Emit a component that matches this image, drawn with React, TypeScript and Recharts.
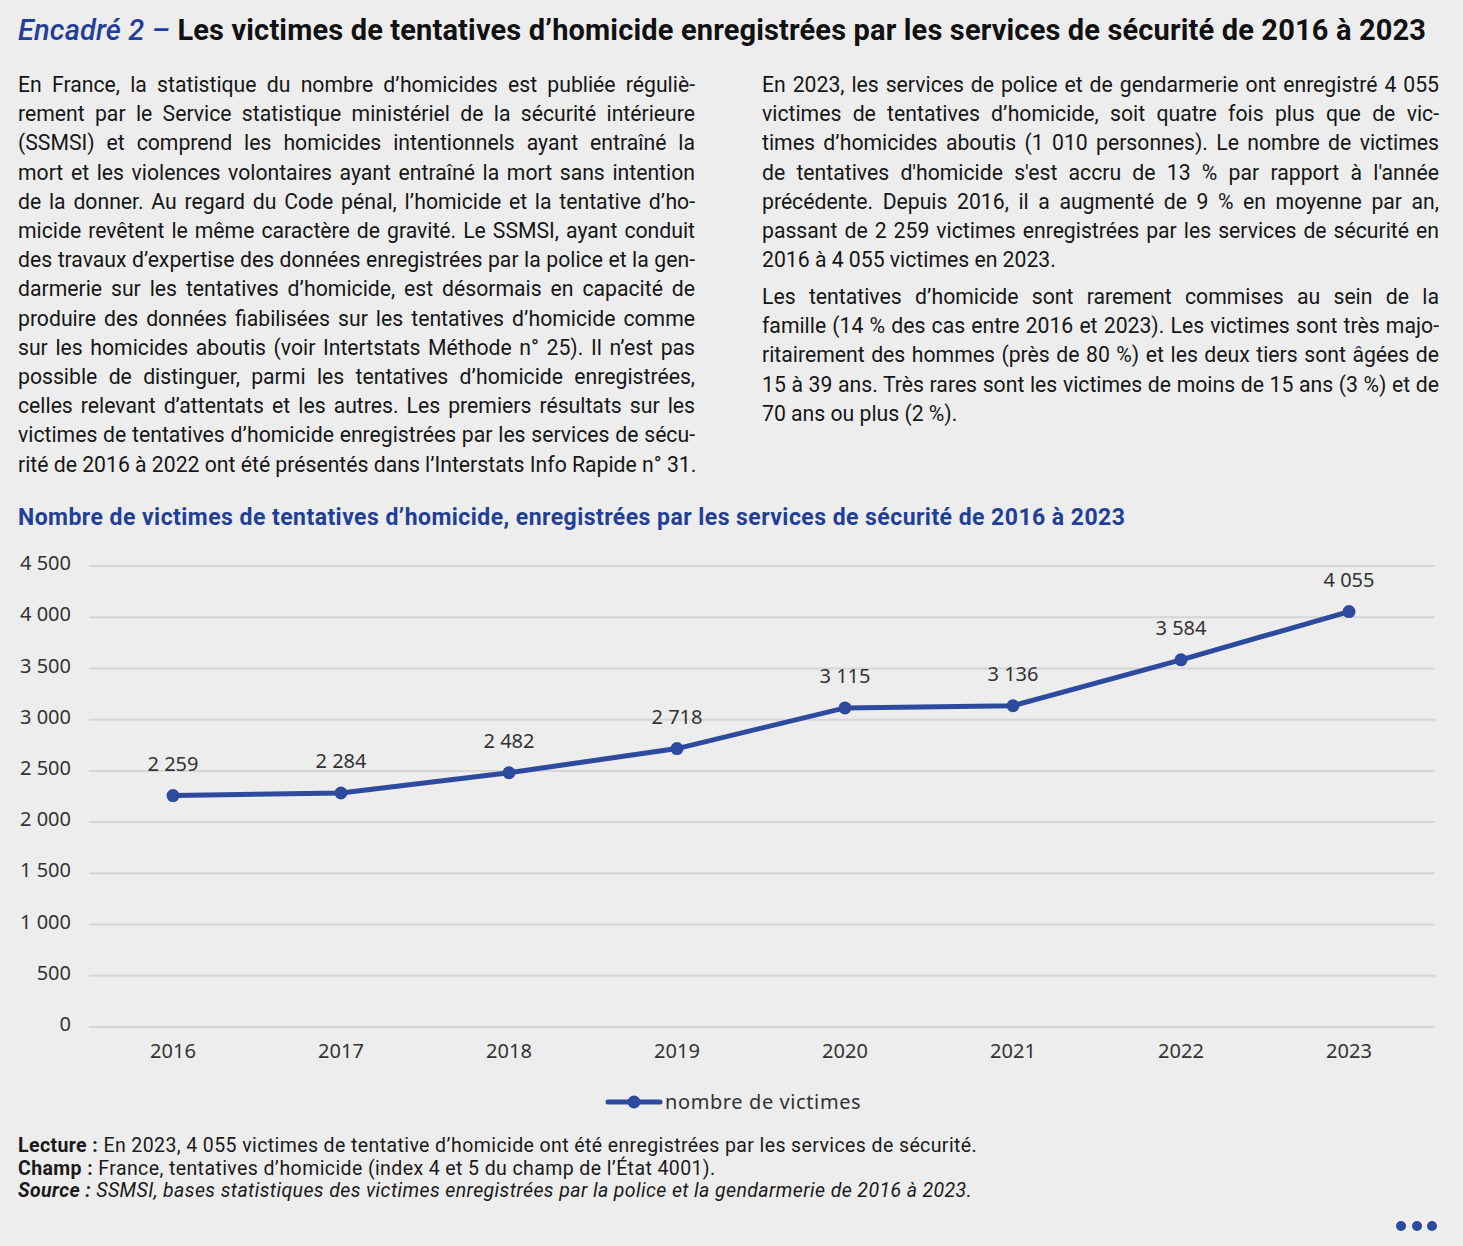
import React from 'react';
import { LineChart, Line, XAxis, YAxis, CartesianGrid, LabelList, Legend } from 'recharts';

const years = ['2016', '2017', '2018', '2019', '2020', '2021', '2022', '2023'];
const victims = [2259, 2284, 2482, 2718, 3115, 3136, 3584, 4055];
const yTicks = [0, 500, 1000, 1500, 2000, 2500, 3000, 3500, 4000, 4500];
const seriesName = 'nombre de victimes';

const leftLines = [
  'En France, la statistique du nombre d’homicides est publiée réguliè-',
  'rement par le Service statistique ministériel de la sécurité intérieure',
  '(SSMSI) et comprend les homicides intentionnels ayant entraîné la',
  'mort et les violences volontaires ayant entraîné la mort sans intention',
  'de la donner. Au regard du Code pénal, l’homicide et la tentative d’ho-',
  'micide revêtent le même caractère de gravité. Le SSMSI, ayant conduit',
  'des travaux d’expertise des données enregistrées par la police et la gen-',
  'darmerie sur les tentatives d’homicide, est désormais en capacité de',
  'produire des données fiabilisées sur les tentatives d’homicide comme',
  'sur les homicides aboutis (voir Intertstats Méthode n° 25). Il n’est pas',
  'possible de distinguer, parmi les tentatives d’homicide enregistrées,',
  'celles relevant d’attentats et les autres. Les premiers résultats sur les',
  'victimes de tentatives d’homicide enregistrées par les services de sécu-',
  'rité de 2016 à 2022 ont été présentés dans l’Interstats Info Rapide n° 31.',
];

const rightPara1 = [
  'En 2023, les services de police et de gendarmerie ont enregistré 4 055',
  'victimes de tentatives d’homicide, soit quatre fois plus que de vic-',
  'times d’homicides aboutis (1 010 personnes). Le nombre de victimes',
  'de tentatives d\'homicide s\'est accru de 13 % par rapport à l\'année',
  'précédente. Depuis 2016, il a augmenté de 9 % en moyenne par an,',
  'passant de 2 259 victimes enregistrées par les services de sécurité en',
  '2016 à 4 055 victimes en 2023.',
];

const rightPara2 = [
  'Les tentatives d’homicide sont rarement commises au sein de la',
  'famille (14 % des cas entre 2016 et 2023). Les victimes sont très majo-',
  'ritairement des hommes (près de 80 %) et les deux tiers sont âgées de',
  '15 à 39 ans. Très rares sont les victimes de moins de 15 ans (3 %) et de',
  '70 ans ou plus (2 %).',
];

const data = years.map((y, i) => ({ year: y, value: victims[i] }));

const fmt = (n: number) => String(n).replace(/\B(?=(\d{3})+(?!\d))/g, '\u00A0');

const BLUE = '#2e4a9e';
const TITLE_BLUE = '#213f98';
const BODY_FONT = 'Roboto, "Noto Sans", sans-serif';
const CHART_FONT = '"Noto Sans", Roboto, sans-serif';

function TextLine({ text, x, y, w, justify, size }: { text: string; x: number; y: number; w: number; justify: boolean; size: number }) {
  return (
    <div
      style={{
        position: 'absolute',
        left: x,
        top: y - 15,
        width: w,
        height: 30,
        lineHeight: '30px',
        fontSize: size,
        whiteSpace: 'nowrap',
        textAlign: justify ? 'justify' : 'left',
        textAlignLast: justify ? 'justify' : 'left',
        letterSpacing: 0,
      }}
    >
      {text}
    </div>
  );
}

function LegendContent() {
  return (
    <div style={{ display: 'flex', alignItems: 'center', fontFamily: CHART_FONT, fontSize: 20, color: '#333', letterSpacing: 0.6 }}>
      <svg width={58} height={16} style={{ display: 'block' }}>
        <line x1={3} y1={8} x2={55} y2={8} stroke={BLUE} strokeWidth={5} strokeLinecap="round" />
        <circle cx={29} cy={8} r={6.5} fill={BLUE} />
      </svg>
      <span style={{ marginLeft: 2 }}>{seriesName}</span>
    </div>
  );
}

export default function App() {
  const size = 21.2;
  return (
    <div
      style={{
        position: 'fixed',
        left: 0,
        top: 0,
        width: 1463,
        height: 1246,
        background: '#ededed',
        fontFamily: BODY_FONT,
        color: '#161616',
        overflow: 'hidden',
      }}
    >
      <div
        style={{
          position: 'absolute',
          left: 18,
          top: 11,
          height: 38,
          lineHeight: '38px',
          fontSize: 29,
          fontWeight: 700,
          whiteSpace: 'nowrap',
          letterSpacing: 0.15,
          color: '#111',
        }}
      >
        <span style={{ color: TITLE_BLUE, fontStyle: 'italic', fontWeight: 500 }}>Encadré 2 – </span>
        Les victimes de tentatives d’homicide enregistrées par les services de sécurité de 2016 à 2023
      </div>

      {leftLines.map((t, i) => (
        <TextLine key={'l' + i} text={t} x={18} y={85 + i * 29.2} w={677} justify={true} size={size} />
      ))}
      {rightPara1.map((t, i) => (
        <TextLine key={'r1' + i} text={t} x={762} y={85 + i * 29.2} w={677} justify={i < rightPara1.length - 1} size={size} />
      ))}
      {rightPara2.map((t, i) => (
        <TextLine key={'r2' + i} text={t} x={762} y={297 + i * 29.2} w={677} justify={i < rightPara2.length - 1} size={size} />
      ))}

      <div
        style={{
          position: 'absolute',
          left: 18,
          top: 503,
          height: 30,
          lineHeight: '30px',
          fontSize: 23,
          fontWeight: 700,
          color: TITLE_BLUE,
          whiteSpace: 'nowrap',
          letterSpacing: 0.45,
        }}
      >
        Nombre de victimes de tentatives d’homicide, enregistrées par les services de sécurité de 2016 à 2023
      </div>

      <div style={{ position: 'absolute', left: 0, top: 540 }}>
        <LineChart width={1463} height={600} data={data} margin={{ top: 26, right: 28, left: 0, bottom: 73 }}>
          <CartesianGrid vertical={false} stroke="#d6d6d6" strokeWidth={2} />
          <XAxis
            dataKey="year"
            axisLine={false}
            tickLine={false}
            tickSize={0}
            tickMargin={17}
            height={40}
            padding={{ left: 84, right: 86 }}
            tick={{ fontSize: 20, fill: '#333', fontFamily: CHART_FONT }}
            interval={0}
          />
          <YAxis
            width={89}
            domain={[0, 4500]}
            ticks={yTicks}
            axisLine={false}
            tickLine={false}
            tickSize={0}
            tickMargin={18}
            interval={0}
            tickFormatter={(v: number) => fmt(v)}
            tick={{ fontSize: 20, fill: '#333', fontFamily: CHART_FONT, dy: -3 }}
          />
          <Legend
            layout="horizontal"
            verticalAlign="middle"
            align="center"
            content={() => <LegendContent />}
            wrapperStyle={{ top: 548, left: 605, width: 320, height: 26 }}
          />
          <Line
            type="linear"
            dataKey="value"
            name={seriesName}
            stroke={BLUE}
            strokeWidth={5}
            dot={{ r: 6.5, fill: BLUE, stroke: BLUE, strokeWidth: 0 }}
            activeDot={false}
            isAnimationActive={false}
          >
            <LabelList
              dataKey="value"
              position="top"
              offset={25}
              formatter={(v: number) => fmt(v)}
              style={{ fontSize: 20, fill: '#333', fontFamily: CHART_FONT }}
            />
          </Line>
        </LineChart>
      </div>

      <div style={{ position: 'absolute', left: 18, top: 1135, fontSize: 19.5, lineHeight: '22.5px', whiteSpace: 'nowrap', color: '#1a1a1a', letterSpacing: 0.4 }}>
        <div><b>Lecture :</b> En 2023, 4 055 victimes de tentative d’homicide ont été enregistrées par les services de sécurité.</div>
        <div><b>Champ :</b> France, tentatives d’homicide (index 4 et 5 du champ de l’État 4001).</div>
        <div style={{ fontStyle: 'italic' }}><b>Source :</b> SSMSI, bases statistiques des victimes enregistrées par la police et la gendarmerie de 2016 à 2023.</div>
      </div>

      {[1401, 1417, 1432].map((cx) => (
        <div key={cx} style={{ position: 'absolute', left: cx - 5, top: 1221, width: 10, height: 10, borderRadius: 5, background: BLUE }} />
      ))}
    </div>
  );
}
